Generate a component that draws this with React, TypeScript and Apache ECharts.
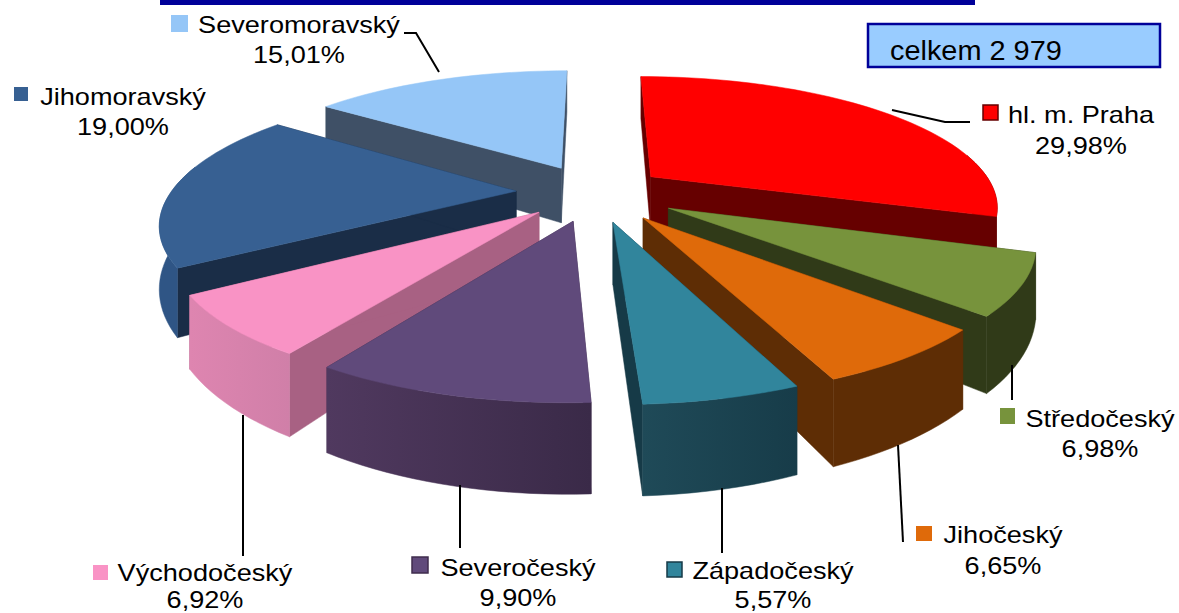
import React, { useEffect, useRef } from "react";
import * as echarts from "echarts";

const names = ["hl. m. Praha", "Středočeský", "Jihočeský", "Západočeský", "Severočeský", "Východočeský", "Jihomoravský", "Severomoravský"];
const shares = [29.98, 6.98, 6.65, 5.57, 9.9, 6.92, 19.0, 15.01];
const topColors = ["#FF0000", "#77933C", "#DF6A0A", "#31859C", "#604A7B", "#F993C5", "#376092", "#95C6F7"];
const cutColors = ["#660000", "#303A18", "#5E2D05", "#163A47", "#3F2D4D", "#A86183", "#1A2D47", "#3F5066"];
const wallFrom = ["#660000", "#303A18", "#5E2D05", "#1F4A58", "#50395F", "#DE85B0", "#2F5585", "#6A9BCB"];
const wallTo = ["#660000", "#303A18", "#5E2D05", "#173C49", "#3A2A48", "#D07FA8", "#2F5585", "#6A9BCB"];
const explosions = [72, 84, 82, 80, 78, 75, 78, 75];
const totalLabel = "celkem 2 979";

// Layout of the labels: [swatch x, swatch y, swatch w, swatch h, text centre x, name y, percent y]
const labelBoxes = [
  [983, 105, 15, 15, 1081, 115, 146],
  [1000, 408, 15, 16, 1100, 419, 449],
  [916, 526, 16, 15, 1003, 535, 566],
  [667, 562, 15, 15, 773, 571, 600],
  [412, 557, 16, 16, 518, 568, 598],
  [93, 565, 15, 15, 205, 573, 600],
  [14, 87, 14, 14, 123, 97, 127],
  [171, 15, 17, 17, 299, 25, 55],
];
const leaderLines = [
  [[892, 110], [945, 122], [970, 122]],
  [[1012, 365], [1012, 400]],
  [[898, 445], [903, 542]],
  [[722, 488], [722, 553]],
  [[460, 485], [460, 548]],
  [[243, 415], [243, 556]],
  [],
  [[404, 33], [416, 33], [439, 72]],
];

const CX = 594, CY = 192, R = 345, TILT = 0.37, PERSP = 0.215, DEPTH = 58;

function project(x: number, y: number) {
  const s = 1 / (1 - (PERSP * y) / R);
  return { x: CX + x * s, y: CY + y * TILT * s, s };
}
function topPt(wx: number, wy: number): number[] {
  const p = project(wx, wy);
  return [p.x, p.y];
}
function bottomPt(wx: number, wy: number): number[] {
  const p = project(wx, wy);
  return [p.x, p.y + DEPTH * Math.pow(p.s, 1.5)];
}

const total = shares.reduce((a, b) => a + b, 0);
const starts: number[] = [];
shares.reduce((acc, v, i) => {
  starts[i] = acc;
  return acc + v;
}, 0);
const midAngle = (i: number) => ((starts[i] + shares[i] / 2) / total) * Math.PI * 2;
const drawOrder = shares.map((_, i) => i).sort((a, b) => -Math.cos(midAngle(a)) - -Math.cos(midAngle(b)));

function renderSlice(_params: any, api: any) {
  const i = api.value(0);
  const a0 = (api.value(1) / total) * Math.PI * 2;
  const a1 = ((api.value(1) + api.value(2)) / total) * Math.PI * 2;
  const mid = (a0 + a1) / 2;
  const e = explosions[i];
  const ox = e * Math.sin(mid);
  const oy = -e * Math.cos(mid);
  const steps = Math.max(8, Math.round((a1 - a0) * 30));
  const world: number[][] = [];
  const facing: number[][] = [];
  for (let k = 0; k <= steps; k++) {
    const a = a0 + ((a1 - a0) * k) / steps;
    const w = [ox + R * Math.sin(a), oy - R * Math.cos(a)];
    world.push(w);
    if (Math.cos(a) < 0.2) facing.push(w);
  }
  const topArc = world.map((w) => topPt(w[0], w[1]));
  const botArc = world.map((w) => bottomPt(w[0], w[1]));
  const apexT = topPt(ox, oy);
  const apexB = bottomPt(ox, oy);
  const poly = (points: number[][], fill: any) => ({
    type: "polygon",
    shape: { points },
    style: { fill, stroke: fill, lineWidth: 0.5 },
  });
  const wall = new echarts.graphic.LinearGradient(0, 0, 1, 0, [
    { offset: 0, color: wallFrom[i] },
    { offset: 1, color: wallTo[i] },
  ]);
  const children: any[] = [
    poly([apexT, topArc[0], botArc[0], apexB], cutColors[i]),
    poly([apexT, topArc[steps], botArc[steps], apexB], cutColors[i]),
  ];
  if (facing.length > 1) {
    children.push(
      poly(
        [...facing.map((w) => topPt(w[0], w[1])), ...facing.map((w) => bottomPt(w[0], w[1])).reverse()],
        wall
      )
    );
  }
  children.push(poly([apexT, ...topArc], topColors[i]));
  return { type: "group", children };
}

function labelGraphics() {
  const items: any[] = [
    { type: "rect", shape: { x: 160, y: -6, width: 815, height: 11 }, style: { fill: "#000099" } },
    { type: "rect", shape: { x: 868, y: 24, width: 292, height: 43 }, style: { fill: "#99CCFF", stroke: "#000099", lineWidth: 2.5 } },
    {
      type: "text", x: 890, y: 51, scaleX: 1.07,
      style: { text: totalLabel, fill: "#000", font: "27px 'Liberation Sans'", textAlign: "left", textVerticalAlign: "middle" },
    },
  ];
  names.forEach((name, i) => {
    const [sx, sy, sw, sh, tx, ny, py] = labelBoxes[i];
    items.push({ type: "rect", z: 10, shape: { x: sx, y: sy, width: sw, height: sh }, style: { fill: topColors[i], stroke: cutColors[i], lineWidth: i === 0 || i === 3 || i === 4 ? 1.5 : 0 } });
    [[name, ny], [shares[i].toFixed(2).replace(".", ",") + "%", py]].forEach(([text, y]) => {
      items.push({
        type: "text", z: 10, x: tx, y, scaleX: 1.13,
        style: { text, fill: "#000", font: "24px 'Liberation Sans'", textAlign: "center", textVerticalAlign: "middle" },
      });
    });
    if (leaderLines[i].length) {
      items.push({ type: "polyline", z: 10, shape: { points: leaderLines[i] }, style: { stroke: "#000", lineWidth: 2, fill: "none" } });
    }
  });
  return items;
}

export default function App() {
  const ref = useRef<HTMLDivElement>(null);
  useEffect(() => {
    const chart = echarts.init(ref.current!, null, { renderer: "svg" });
    chart.setOption({
      animation: false,
      backgroundColor: "#fff",
      graphic: { elements: labelGraphics() },
      series: [
        {
          type: "custom",
          coordinateSystem: "none",
          renderItem: renderSlice,
          data: drawOrder.map((i) => [i, starts[i], shares[i]]),
          silent: true,
        },
      ],
    });
    return () => chart.dispose();
  }, []);
  return <div ref={ref} style={{ position: "absolute", left: 0, top: 0, width: 1179, height: 613 }} />;
}
